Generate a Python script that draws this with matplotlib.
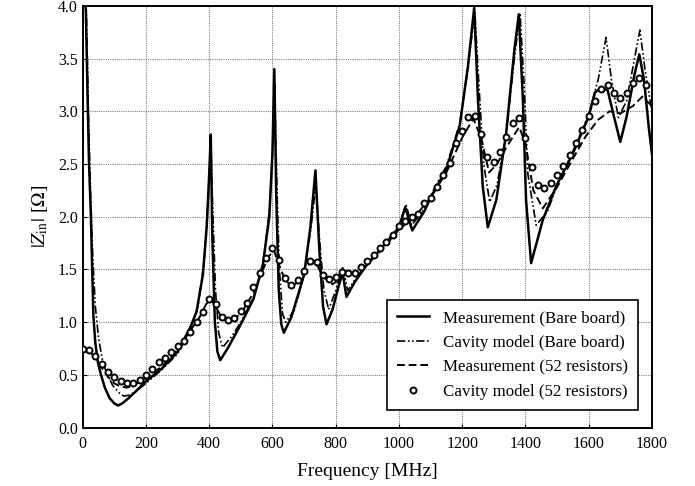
import matplotlib
matplotlib.use("Agg")
import matplotlib.pyplot as plt

plt.rcParams['font.family'] = ['Liberation Serif', 'DejaVu Serif']
plt.rcParams['mathtext.fontset'] = 'stix'

# Measurement (Bare board)
meas_bare_f = [6, 10, 15, 20, 26, 30, 34, 40, 48, 58, 70, 85, 100, 112, 125, 145, 170, 200,
               250, 300, 340, 360, 380, 392, 400, 405, 410, 418, 426, 435, 460, 500, 540, 570,
               590, 600, 606, 612, 620, 628, 636, 660, 700, 720, 736, 748, 760, 771, 790, 810,
               822, 834, 860, 900, 950, 1000, 1020, 1042, 1080, 1100, 1150, 1192, 1218, 1238,
               1250, 1265, 1281, 1308, 1339, 1365, 1379, 1392, 1402, 1418, 1455, 1497, 1550,
               1600, 1620, 1640, 1660, 1680, 1700, 1720, 1745, 1760, 1775, 1790, 1800]
meas_bare_z = [4.2, 3.95, 3.2, 2.5, 2.0, 1.5, 1.05, 0.8, 0.62, 0.5, 0.38, 0.28, 0.23, 0.21, 0.23,
               0.28, 0.35, 0.44, 0.56, 0.72, 0.95, 1.10, 1.45, 1.9, 2.4, 2.78, 1.8, 1.0, 0.72,
               0.64, 0.76, 0.98, 1.22, 1.55, 2.0, 2.6, 3.40, 2.2, 1.3, 0.98, 0.90, 1.05, 1.45,
               1.9, 2.44, 1.7, 1.15, 0.98, 1.12, 1.35, 1.47, 1.24, 1.38, 1.55, 1.72, 1.9, 2.09,
               1.87, 2.05, 2.18, 2.45, 2.86, 3.42, 3.98, 3.11, 2.29, 1.90, 2.16, 2.79, 3.58,
               3.92, 3.11, 2.16, 1.56, 1.97, 2.29, 2.6, 2.95, 3.18, 3.22, 3.2, 2.95, 2.71, 2.95,
               3.35, 3.54, 3.3, 2.85, 2.6]

# Cavity model (Bare board)
cav_bare_f = [8, 12, 18, 25, 32, 40, 50, 62, 75, 95, 115, 130, 150, 175, 200, 250, 300, 340,
              365, 385, 397, 405, 412, 420, 430, 442, 470, 500, 540, 570, 592, 601, 607, 614,
              622, 632, 642, 670, 700, 722, 737, 750, 763, 778, 800, 822, 838, 860, 900, 950,
              1000, 1022, 1040, 1080, 1100, 1150, 1192, 1218, 1240, 1252, 1268, 1287, 1310,
              1340, 1365, 1383, 1395, 1408, 1434, 1470, 1500, 1550, 1600, 1630, 1655, 1672,
              1694, 1720, 1745, 1762, 1778, 1800]
cav_bare_z = [4.2, 3.9, 3.0, 2.2, 1.6, 1.15, 0.85, 0.65, 0.52, 0.40, 0.33, 0.30, 0.31, 0.36,
              0.42, 0.55, 0.70, 0.93, 1.15, 1.6, 2.2, 2.72, 2.0, 1.3, 0.9, 0.76, 0.86, 1.0,
              1.24, 1.55, 2.1, 2.7, 3.25, 2.3, 1.5, 1.08, 1.0, 1.12, 1.45, 1.9, 2.3, 1.75, 1.3,
              1.12, 1.3, 1.53, 1.30, 1.40, 1.56, 1.72, 1.9, 2.12, 1.92, 2.07, 2.2, 2.48, 2.88,
              3.4, 3.95, 3.3, 2.5, 2.14, 2.3, 2.8, 3.5, 3.93, 3.3, 2.4, 1.92, 2.05, 2.3, 2.62,
              2.97, 3.3, 3.70, 3.3, 2.94, 3.1, 3.5, 3.77, 3.4, 3.0]

# Measurement (52 resistors)
meas_52_f = [0, 20, 40, 60, 80, 100, 120, 140, 160, 200, 250, 300, 340, 370, 390, 405, 420,
             440, 465, 500, 540, 570, 590, 605, 620, 640, 665, 690, 720, 740, 760, 790, 830,
             870, 900, 950, 1000, 1050, 1100, 1150, 1200, 1235, 1260, 1285, 1310, 1340, 1380,
             1400, 1425, 1455, 1500, 1550, 1590, 1630, 1666, 1700, 1740, 1770, 1800]
meas_52_z = [0.77, 0.73, 0.66, 0.57, 0.48, 0.42, 0.39, 0.38, 0.40, 0.47, 0.58, 0.74, 0.92,
             1.05, 1.17, 1.22, 1.15, 1.04, 1.00, 1.08, 1.28, 1.50, 1.63, 1.68, 1.55, 1.40,
             1.33, 1.43, 1.57, 1.55, 1.43, 1.36, 1.45, 1.48, 1.55, 1.70, 1.88, 2.0, 2.18,
             2.42, 2.75, 2.93, 2.75, 2.42, 2.50, 2.66, 2.85, 2.70, 2.25, 2.08, 2.28, 2.55,
             2.76, 2.92, 3.0, 2.98, 3.05, 3.14, 3.05]

# Cavity model (52 resistors), one point every 20 MHz
cav_52_f = list(range(0, 1800, 20))
cav_52_z = [0.75, 0.74, 0.68, 0.60, 0.53, 0.48, 0.44, 0.42, 0.42, 0.45,
            0.50, 0.56, 0.62, 0.66, 0.72, 0.77, 0.82, 0.91, 1.00, 1.10,
            1.22, 1.17, 1.05, 1.02, 1.04, 1.11, 1.18, 1.33, 1.47, 1.61,
            1.70, 1.59, 1.42, 1.35, 1.40, 1.49, 1.58, 1.57, 1.45, 1.41,
            1.43, 1.48, 1.47, 1.47, 1.52, 1.58, 1.64, 1.70, 1.76, 1.83,
            1.91, 1.96, 2.00, 2.03, 2.13, 2.18, 2.28, 2.40, 2.51, 2.70,
            2.81, 2.95, 2.96, 2.78, 2.57, 2.52, 2.61, 2.76, 2.89, 2.94,
            2.75, 2.47, 2.30, 2.27, 2.32, 2.40, 2.48, 2.59, 2.70, 2.82,
            2.96, 3.10, 3.21, 3.25, 3.17, 3.13, 3.17, 3.27, 3.32, 3.25]

fig = plt.figure(figsize=(6.95, 4.86), dpi=100)
ax = fig.add_axes([0.119, 0.12, 0.819, 0.868])

ax.plot(meas_bare_f, meas_bare_z, color='black', lw=1.8, ls='-',
        label='Measurement (Bare board)')
ax.plot(cav_bare_f, cav_bare_z, color='black', lw=1.2, ls=(0, (5, 1.5, 1, 1.5, 1, 1.5)),
        label='Cavity model (Bare board)')
ax.plot(meas_52_f, meas_52_z, color='black', lw=1.4, ls=(0, (4, 2)),
        label='Measurement (52 resistors)')
ax.plot(cav_52_f, cav_52_z, ls='none', marker='o', ms=4.3, mew=1.4,
        mfc='white', mec='black', label='Cavity model (52 resistors)', zorder=5)

ax.set_xlim(0, 1800)
ax.set_ylim(0, 4.0)
ax.set_xticks(range(0, 1801, 200))
ax.set_yticks([0.0, 0.5, 1.0, 1.5, 2.0, 2.5, 3.0, 3.5, 4.0])
ax.set_yticklabels(['%.1f' % v for v in ax.get_yticks()])
ax.tick_params(direction='in', length=3, labelsize=11.5, colors='black')
ax.tick_params(axis='x', pad=6)

ax.grid(True, color='#808080', ls=(0, (1, 1)), lw=0.8)
for s in ax.spines.values():
    s.set_linewidth(1.4)

ax.set_xlabel('Frequency [MHz]', fontsize=14, labelpad=8)
ax.set_ylabel(r'$|Z_{\rm in}|$ [$\Omega$]', fontsize=14, labelpad=6)

leg = ax.legend(loc='lower right', bbox_to_anchor=(0.99, 0.022), fontsize=12.2,
                frameon=True, fancybox=False, edgecolor='black', framealpha=1,
                handlelength=1.9, labelspacing=0.5, borderpad=0.6, handletextpad=0.8)
leg.get_frame().set_linewidth(1.2)

fig.savefig('out.png', dpi=100)
